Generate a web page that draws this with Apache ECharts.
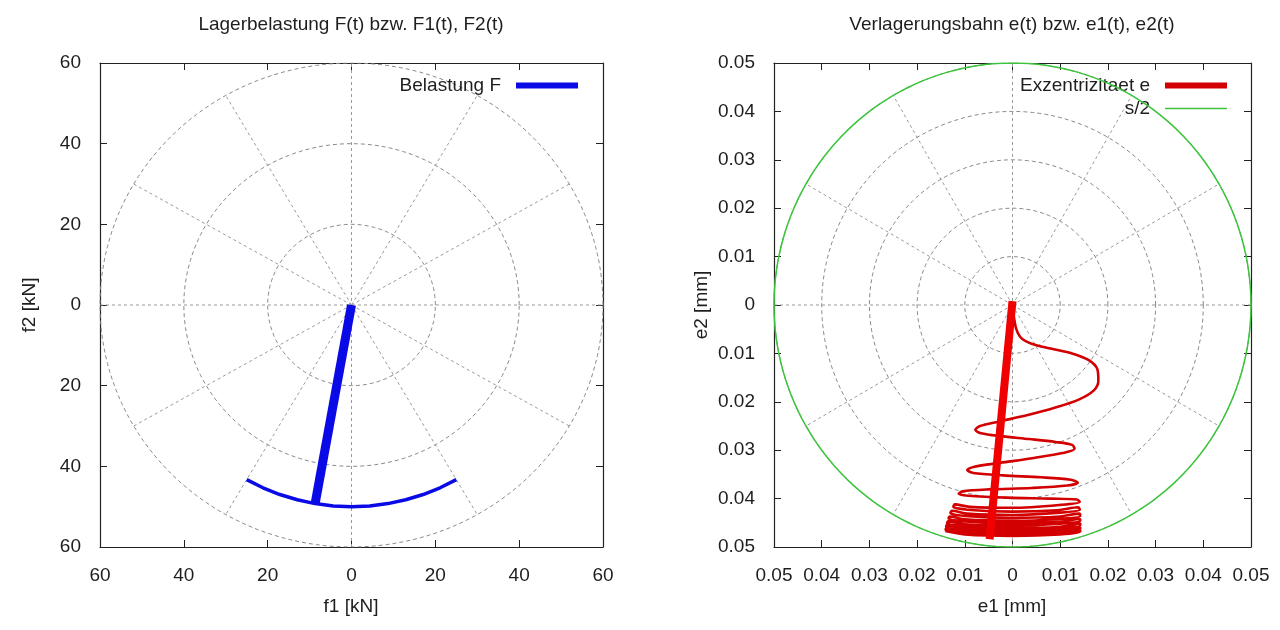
<!DOCTYPE html>
<html>
<head>
<meta charset="utf-8">
<title>Lagerbelastung und Verlagerungsbahn</title>
<script src="https://cdn.jsdelivr.net/npm/echarts@6/dist/echarts.min.js"></script>
<style>
  html, body { margin: 0; padding: 0; background: #ffffff; }
  #chart { width: 1280px; height: 630px; }
</style>
</head>
<body>
<div id="chart"></div>
<script>
// ---- Lagerbelastung: Lastvektor F (Winkel in Grad, Betrag in kN) ----
const loadArcAngle = [240, 245, 250, 255, 260, 265, 270, 275, 280, 285, 290, 295, 300];
const loadArcMag   = [50, 50, 50, 50, 50, 50, 50, 50, 50, 50, 50, 50, 50];
const loadRayAngle = [260, 260];
const loadRayMag   = [0, 50];

// ---- Verlagerungsbahn: Exzentrizitaet e1, e2 in mm ----
const eccE1 = [
  0.0000, 0.0003, 0.0008, 0.0018, 0.0040, 0.0080, 0.0125, 0.0160, 0.0178, 0.0180,
  0.0170, 0.0140, 0.0090, 0.0030, -0.0030, -0.0068, -0.0078, -0.0066, -0.0025, 0.0035,
  0.0090, 0.0125, 0.0130, 0.0105, 0.0045, -0.0025, -0.0080, -0.0095, -0.0082, -0.0020,
  0.0060, 0.0122, 0.0137, 0.0115, 0.0040, -0.0050, -0.0105, -0.0113, -0.0092, -0.0010,
  0.0080, 0.0135, 0.0141,
  0.0100, 0.0000, -0.0090, -0.0121, -0.0124,
  -0.0095, 0.0000, 0.0095, 0.0138, 0.0141,
  0.0100, 0.0000, -0.0095, -0.0127, -0.0130,
  -0.0100, 0.0000, 0.0100, 0.0140, 0.0142,
  0.0100, 0.0000, -0.0100, -0.0132, -0.0134,
  -0.0100, 0.0000, 0.0100, 0.0141, 0.0142,
  0.0100, 0.0000, -0.0100, -0.0135, -0.0137,
  -0.0100, 0.0000, 0.0100, 0.0142, 0.0142,
  0.0100, 0.0000, -0.0100, -0.0138, -0.0139,
  -0.0100, 0.0000, 0.0100, 0.0142, 0.0142,
  0.0100, 0.0000, -0.0100, -0.0140, -0.0140,
  -0.0100, 0.0000, 0.0100, 0.0142, 0.0142,
  0.0100, 0.0000, -0.0100, -0.0141
];
const eccE2 = [
  0.0000, -0.0025, -0.0050, -0.0068, -0.0080, -0.0090, -0.0100, -0.0114, -0.0133, -0.0157,
  -0.0177, -0.0195, -0.0212, -0.0228, -0.0241, -0.0250, -0.0258, -0.0265, -0.0271, -0.0277,
  -0.0283, -0.0289, -0.0297, -0.0306, -0.0316, -0.0326, -0.0334, -0.0341, -0.0347, -0.0352,
  -0.0356, -0.0361, -0.0367, -0.0373, -0.0378, -0.0381, -0.0385, -0.0390, -0.0394, -0.0398,
  -0.0400, -0.0402, -0.0407,
  -0.0413, -0.0419, -0.0417, -0.0412, -0.0417,
  -0.0423, -0.0427, -0.0424, -0.0418, -0.0423,
  -0.0429, -0.0434, -0.0431, -0.0425, -0.0430,
  -0.0436, -0.0440, -0.0437, -0.0431, -0.0436,
  -0.0442, -0.0446, -0.0443, -0.0437, -0.0441,
  -0.0447, -0.0451, -0.0448, -0.0442, -0.0446,
  -0.0452, -0.0456, -0.0453, -0.0447, -0.0451,
  -0.0457, -0.0461, -0.0458, -0.0451, -0.0455,
  -0.0461, -0.0465, -0.0462, -0.0455, -0.0459,
  -0.0465, -0.0469, -0.0466, -0.0459, -0.0462,
  -0.0468, -0.0472, -0.0469, -0.0462, -0.0465,
  -0.0471, -0.0475, -0.0472, -0.0465, -0.0468,
  -0.0474, -0.0477, -0.0474, -0.0467
];
const eccBarE1 = [0.0000, -0.0048];
const eccBarE2 = [0.0008, -0.0484];
const clearanceHalf = 0.05;   // s/2 in mm

// ---- Achsen ----
const forceTicks = [-60, -40, -20, 0, 20, 40, 60];
const forceCircles = [20, 40, 60];
const eccTicks = [-0.05, -0.04, -0.03, -0.02, -0.01, 0, 0.01, 0.02, 0.03, 0.04, 0.05];
const eccCircles = [0.01, 0.02, 0.03, 0.04, 0.05];
const spokeAngles = [30, 60, 120, 150, 210, 240, 300, 330];

const FONT = '"Liberation Sans", Arial, Helvetica, sans-serif';
const FS = 19;
const TXT = '#1e1e1e';
const GUIDE = '#9a9a9a';

function polarToXY(angles, mags) {
  return angles.map((a, i) => {
    const r = a * Math.PI / 180;
    return [mags[i] * Math.cos(r), mags[i] * Math.sin(r)];
  });
}
function zip(a, b) { return a.map((v, i) => [v, b[i]]); }
function circlePts(r) {
  const pts = [];
  for (let d = 0; d <= 360; d += 2) {
    const t = d * Math.PI / 180;
    pts.push([r * Math.cos(t), r * Math.sin(t)]);
  }
  return pts;
}

// polar grid: circles, spokes every 30 degrees and the two zero axes
function guideSeries(gridIdx, circles, rMax) {
  const out = [];
  const common = {
    type: 'line', xAxisIndex: gridIdx * 2, yAxisIndex: gridIdx * 2,
    showSymbol: false, silent: true, animation: false, z: 1
  };
  circles.forEach(r => out.push(Object.assign({}, common, {
    data: circlePts(r),
    lineStyle: { color: '#8a8a8a', width: 1, type: [4, 3] }
  })));
  spokeAngles.forEach(a => {
    const t = a * Math.PI / 180;
    out.push(Object.assign({}, common, {
      data: [[0, 0], [rMax * Math.cos(t), rMax * Math.sin(t)]],
      lineStyle: { color: GUIDE, width: 1, type: [3, 3] }
    }));
  });
  out.push(Object.assign({}, common, {
    data: [[-rMax, 0], [rMax, 0]], lineStyle: { color: GUIDE, width: 1, type: [3, 3] }
  }));
  out.push(Object.assign({}, common, {
    data: [[0, -rMax], [0, rMax]], lineStyle: { color: GUIDE, width: 1, type: [3, 3] }
  }));
  return out;
}

const tickLabelStyle = { color: TXT, fontSize: FS, fontFamily: FONT };
const frameLine = { show: true, onZero: false, lineStyle: { color: '#222', width: 1.2 } };
const frameTick = { show: true, inside: true, length: 7, lineStyle: { color: '#222' } };
function mainX(grid, min, max, interval, fmt) {
  return {
    type: 'value', gridIndex: grid, position: 'bottom', min, max, interval,
    axisLine: frameLine, axisTick: frameTick,
    axisLabel: Object.assign({ margin: 19, formatter: fmt, showMinLabel: true, showMaxLabel: true }, tickLabelStyle),
    splitLine: { show: false }
  };
}
function mainY(grid, min, max, interval, fmt) {
  return {
    type: 'value', gridIndex: grid, position: 'left', min, max, interval,
    axisLine: frameLine, axisTick: frameTick,
    axisLabel: Object.assign({ margin: 19, formatter: fmt, showMinLabel: true, showMaxLabel: true }, tickLabelStyle),
    splitLine: { show: false }
  };
}
function mirrorX(grid, min, max, interval) {
  return {
    type: 'value', gridIndex: grid, position: 'top', min, max, interval,
    axisLine: frameLine, axisTick: frameTick,
    axisLabel: { show: false }, splitLine: { show: false }
  };
}
function mirrorY(grid, min, max, interval) {
  return {
    type: 'value', gridIndex: grid, position: 'right', min, max, interval,
    axisLine: frameLine, axisTick: frameTick,
    axisLabel: { show: false }, splitLine: { show: false }
  };
}

const fmtForce = v => String(Math.abs(v));
const fmtEcc = v => (Math.abs(v) < 1e-9 ? '0' : Math.abs(v).toFixed(2));

const fMin = forceTicks[0], fMax = forceTicks[forceTicks.length - 1], fStep = forceTicks[1] - forceTicks[0];
const eMin = eccTicks[0], eMax = eccTicks[eccTicks.length - 1], eStep = 0.01;

const BLUE = '#0a0ae6';
const RED = '#f00000';
const DARKRED = '#d20000';
const GREEN = '#3cc43c';

const thickIcon = 'path://M0,0H62V6H0Z';
const thinIcon = 'path://M0,0H62V1.3H0Z';

function titleText(x, y, text, rot) {
  return {
    type: 'text', x, y, rotation: rot || 0,
    style: { text, font: FS + 'px ' + FONT, fill: TXT, align: 'center', verticalAlign: 'middle' }
  };
}

const option = {
  backgroundColor: '#ffffff',
  animation: false,
  textStyle: { fontFamily: FONT },
  grid: [
    { left: 100, top: 63, width: 503, height: 484, containLabel: false },
    { left: 774, top: 63, width: 477, height: 484, containLabel: false }
  ],
  xAxis: [
    mainX(0, fMin, fMax, fStep, fmtForce), mirrorX(0, fMin, fMax, fStep),
    mainX(1, eMin, eMax, eStep, fmtEcc), mirrorX(1, eMin, eMax, eStep)
  ],
  yAxis: [
    mainY(0, fMin, fMax, fStep, fmtForce), mirrorY(0, fMin, fMax, fStep),
    mainY(1, eMin, eMax, eStep, fmtEcc), mirrorY(1, eMin, eMax, eStep)
  ],
  legend: [
    {
      right: 1280 - 583, top: 71, orient: 'vertical', align: 'right',
      itemWidth: 62, itemHeight: 8, itemGap: 4,
      textStyle: { color: TXT, fontSize: FS, fontFamily: FONT, padding: [0, 10, 0, 0] },
      itemStyle: { borderWidth: 0 },
      selectedMode: false,
      data: [{ name: 'Belastung F', icon: thickIcon }]
    },
    {
      right: 1280 - 1232, top: 71, orient: 'vertical', align: 'right',
      itemWidth: 62, itemHeight: 8, itemGap: 4,
      textStyle: { color: TXT, fontSize: FS, fontFamily: FONT, padding: [0, 10, 0, 0] },
      itemStyle: { borderWidth: 0 },
      selectedMode: false,
      data: [{ name: 'Exzentrizitaet e', icon: thickIcon }, { name: 's/2', icon: thinIcon }]
    }
  ],
  graphic: [
    titleText(351, 25, 'Lagerbelastung F(t) bzw. F1(t), F2(t)'),
    titleText(1012, 25, 'Verlagerungsbahn e(t) bzw. e1(t), e2(t)'),
    titleText(351, 607, 'f1 [kN]'),
    titleText(1012, 607, 'e1 [mm]'),
    titleText(30, 305, 'f2 [kN]', Math.PI / 2),
    titleText(702, 305, 'e2 [mm]', Math.PI / 2)
  ],
  series: [
    ...guideSeries(0, forceCircles, fMax),
    ...guideSeries(1, eccCircles, eMax),
    {
      name: 'Belastung F', type: 'line', xAxisIndex: 0, yAxisIndex: 0,
      showSymbol: false, z: 5, color: BLUE,
      data: polarToXY(loadArcAngle, loadArcMag),
      lineStyle: { color: BLUE, width: 3.5 }
    },
    {
      name: 'Belastung F', type: 'line', xAxisIndex: 0, yAxisIndex: 0,
      showSymbol: false, z: 6, color: BLUE,
      data: polarToXY(loadRayAngle, loadRayMag),
      lineStyle: { color: BLUE, width: 9, cap: 'butt' }
    },
    {
      name: 's/2', type: 'line', xAxisIndex: 2, yAxisIndex: 2,
      showSymbol: false, z: 4, color: GREEN,
      data: circlePts(clearanceHalf),
      lineStyle: { color: GREEN, width: 1.5 }
    },
    {
      name: 'Exzentrizitaet e', type: 'line', xAxisIndex: 2, yAxisIndex: 2,
      showSymbol: false, z: 5, color: DARKRED, smooth: 0.3,
      data: zip(eccE1, eccE2),
      lineStyle: { color: DARKRED, width: 2.6 }
    },
    {
      name: 'Exzentrizitaet e', type: 'line', xAxisIndex: 2, yAxisIndex: 2,
      showSymbol: false, z: 6, color: RED,
      data: zip(eccBarE1, eccBarE2),
      lineStyle: { color: RED, width: 8, cap: 'butt' }
    }
  ]
};

const chart = echarts.init(document.getElementById('chart'), null, { renderer: 'canvas' });
chart.setOption(option);
</script>
</body>
</html>
